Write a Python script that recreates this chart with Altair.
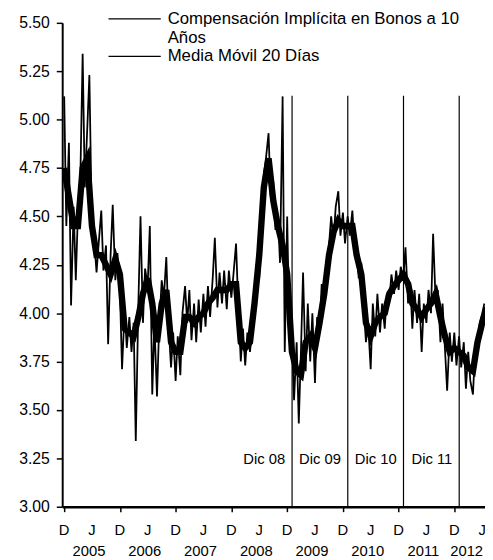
import altair as alt
import pandas as pd

# Compensación implícita (lecturas semi-mensuales del gráfico, desde 1-dic-2004)
series_values = [
    5.12, 4.45, 4.88, 4.04, 4.55, 4.17, 4.52, 4.62, 5.34, 4.65,
    4.95, 5.23, 4.41, 4.38, 4.21, 4.36, 4.53, 4.22, 4.35, 3.84,
    4.30, 4.56, 4.17, 4.31, 4.12, 3.71, 4.02, 3.82, 3.98, 3.80,
    3.95, 3.34, 4.05, 4.50, 3.95, 4.23, 4.14, 4.45, 3.58, 3.95,
    3.57, 3.93, 4.17, 4.08, 4.29, 3.95, 3.72, 3.90, 3.65, 3.88,
    3.68, 4.00, 4.14, 3.95, 4.12, 3.86, 4.05, 3.85, 4.07, 3.90,
    4.10, 3.93, 4.14, 3.98, 4.18, 4.39, 4.03, 4.21, 4.05, 4.22,
    4.02, 4.22, 4.08, 4.20, 4.36, 4.05, 3.75, 3.92, 3.73, 3.90,
    3.80, 3.90, 4.03, 4.15, 4.18, 4.43, 4.72, 4.80, 4.93, 4.60,
    4.68, 4.43, 4.51, 4.26, 5.12, 3.80, 4.50, 3.90, 3.88, 3.55,
    3.85, 3.43, 3.80, 4.21, 3.70, 4.05, 3.75, 4.00, 3.64, 3.98,
    3.90, 4.15, 4.05, 4.24, 4.35, 4.50, 4.38, 4.55, 4.63, 4.40,
    4.52, 4.36, 4.50, 4.40, 4.53, 4.35, 4.30, 4.18, 4.26, 4.05,
    3.85, 3.95, 3.71, 4.05, 3.88, 4.10, 3.90, 4.05, 3.92, 4.10,
    4.07, 4.20, 4.10, 4.22, 4.12, 4.24, 4.18, 4.34, 4.05, 4.16,
    3.92, 4.12, 3.95, 4.10, 3.80, 4.05, 3.95, 4.12, 4.00, 4.41,
    4.05, 4.12, 3.85, 4.05, 3.81, 3.60, 3.90, 3.75, 3.90, 3.73,
    3.88, 3.72, 3.85, 3.61, 3.80, 3.65, 3.58, 3.81, 3.85, 3.95,
    4.00, 4.05,
]

# Media móvil 20 días (lecturas mensuales, desde 1-dic-2004)
ma_values = [
    4.75, 4.60, 4.45, 4.45, 4.75, 4.80, 4.45, 4.30, 4.30, 4.25,
    4.20, 4.28, 4.20, 3.92, 3.90, 3.88, 3.98, 4.10, 4.18, 4.05,
    3.85, 4.05, 4.12, 3.85, 3.80, 3.80, 3.98, 3.98, 3.95, 3.98,
    4.00, 4.05, 4.08, 4.12, 4.12, 4.12, 4.15, 4.15, 3.85, 3.82,
    3.85, 4.05, 4.30, 4.65, 4.80, 4.58, 4.45, 4.35, 4.20, 3.80,
    3.70, 3.68, 3.85, 3.88, 3.82, 3.95, 4.10, 4.30, 4.42, 4.48,
    4.45, 4.45, 4.45, 4.30, 4.20, 3.95, 3.88, 3.95, 3.98, 4.00,
    4.10, 4.14, 4.17, 4.20, 4.15, 4.05, 4.02, 3.98, 4.02, 4.05,
    4.10, 3.98, 3.88, 3.80, 3.82, 3.80, 3.78, 3.72, 3.70, 3.85,
    3.95, 4.03,
]

y_ticks = [3.00, 3.25, 3.50, 3.75, 4.00, 4.25, 4.50, 4.75, 5.00, 5.25, 5.50]
tick_dates = [
    "2004-12-01", "2005-06-01", "2005-12-01", "2006-06-01", "2006-12-01",
    "2007-06-01", "2007-12-01", "2008-06-01", "2008-12-01", "2009-06-01",
    "2009-12-01", "2010-06-01", "2010-12-01", "2011-06-01", "2011-12-01",
    "2012-06-01",
]
tick_letters = ["D", "J", "D", "J", "D", "J", "D", "J", "D", "J", "D", "J", "D", "J", "D", "J"]
year_dates = ["2005-06-01", "2006-06-01", "2007-06-01", "2008-06-01",
              "2009-06-01", "2010-06-01", "2011-06-01", "2012-03-10"]
year_labels = ["2005", "2006", "2007", "2008", "2009", "2010", "2011", "2012"]
event_dates = ["2009-01-02", "2010-01-02", "2011-01-02", "2012-01-02"]
event_labels = ["Dic 08", "Dic 09", "Dic 10", "Dic 11"]
legend_labels = ["Compensación Implícita en Bonos a 10", "Años", "Media Móvil 20 Días"]

FONT = "Liberation Sans"

daily = pd.DataFrame({
    "fecha": pd.date_range("2004-12-01", periods=len(series_values), freq="SMS"),
    "valor": series_values,
})
media = pd.DataFrame({
    "fecha": pd.date_range("2004-12-01", periods=len(ma_values), freq="MS"),
    "valor": ma_values,
})
events = pd.DataFrame({"fecha": pd.to_datetime(event_dates), "etiqueta": event_labels})
years = pd.DataFrame({"fecha": pd.to_datetime(year_dates), "anio": year_labels})
letters = pd.DataFrame({"fecha": pd.to_datetime(tick_dates), "letra": tick_letters})
one = pd.DataFrame({"a": [0]})

x_scale = alt.Scale(domain=[alt.DateTime(year=2004, month=11, date=18),
                            alt.DateTime(year=2012, month=6, date=19)])
y_scale = alt.Scale(domain=[3.0, 5.5])

tick_ms = [int(pd.Timestamp(d).value // 10**6) for d in tick_dates]
x_axis = alt.Axis(
    values=tick_ms, labels=False,
    title=None, grid=False, tickSize=5, tickWidth=1.5, domainWidth=2.5,
)
y_axis = alt.Axis(
    values=y_ticks, format=".2f", title=None, grid=False, tickSize=6,
    tickWidth=1.5, domainWidth=2, labelPadding=7, labelFontSize=16,
)

serie = alt.Chart(daily).mark_line(color="black", strokeWidth=1.8, clip=True).encode(
    x=alt.X("fecha:T", scale=x_scale, axis=x_axis),
    y=alt.Y("valor:Q", scale=y_scale, axis=y_axis),
)
mm = alt.Chart(media).mark_line(color="black", strokeWidth=6.5, clip=True).encode(
    x=alt.X("fecha:T", scale=x_scale),
    y=alt.Y("valor:Q", scale=y_scale),
)
vlines = alt.Chart(events).mark_rule(color="black", strokeWidth=1.2).encode(
    x=alt.X("fecha:T", scale=x_scale),
    y=alt.value(491),
    y2=alt.value(74),
)
vtext = alt.Chart(events).mark_text(
    align="right", baseline="middle", dx=-7, fontSize=15, font=FONT, color="black"
).encode(
    x=alt.X("fecha:T", scale=x_scale),
    y=alt.value(443),
    text="etiqueta:N",
)
ltext = alt.Chart(letters).mark_text(
    align="center", baseline="middle", fontSize=15, font=FONT, color="black"
).encode(
    x=alt.X("fecha:T", scale=x_scale),
    y=alt.value(515),
    text="letra:N",
)
ytext = alt.Chart(years).mark_text(
    align="center", baseline="middle", dx=-3, fontSize=15, font=FONT, color="black"
).encode(
    x=alt.X("fecha:T", scale=x_scale),
    y=alt.value(536),
    text="anio:N",
)

leg_style = dict(align="left", baseline="middle", fontSize=17, font=FONT, color="black")
leg_rule1 = alt.Chart(one).mark_rule(color="black", strokeWidth=1.3).encode(
    x=alt.value(47), x2=alt.value(100), y=alt.value(-4))
leg_rule2 = alt.Chart(one).mark_rule(color="black", strokeWidth=1.3).encode(
    x=alt.value(47), x2=alt.value(100), y=alt.value(34))
leg_t1 = alt.Chart(one).mark_text(**leg_style).encode(
    x=alt.value(107), y=alt.value(-4), text=alt.value(legend_labels[0]))
leg_t2 = alt.Chart(one).mark_text(**leg_style).encode(
    x=alt.value(107), y=alt.value(15), text=alt.value(legend_labels[1]))
leg_t3 = alt.Chart(one).mark_text(**leg_style).encode(
    x=alt.value(107), y=alt.value(34), text=alt.value(legend_labels[2]))

chart = alt.layer(
    serie, mm, vlines, vtext, ltext, ytext,
    leg_rule1, leg_rule2, leg_t1, leg_t2, leg_t3
).properties(
    width=429, height=491,
    autosize=alt.AutoSizeParams(type="none"),
    padding={"left": 55, "top": 11, "right": 0, "bottom": 50},
    background="white",
).configure_view(stroke=None).configure_axis(
    domainColor="black", tickColor="black", labelColor="black", labelFont=FONT,
)

chart.save("out.html", embed_options={"renderer": "svg", "actions": False})
